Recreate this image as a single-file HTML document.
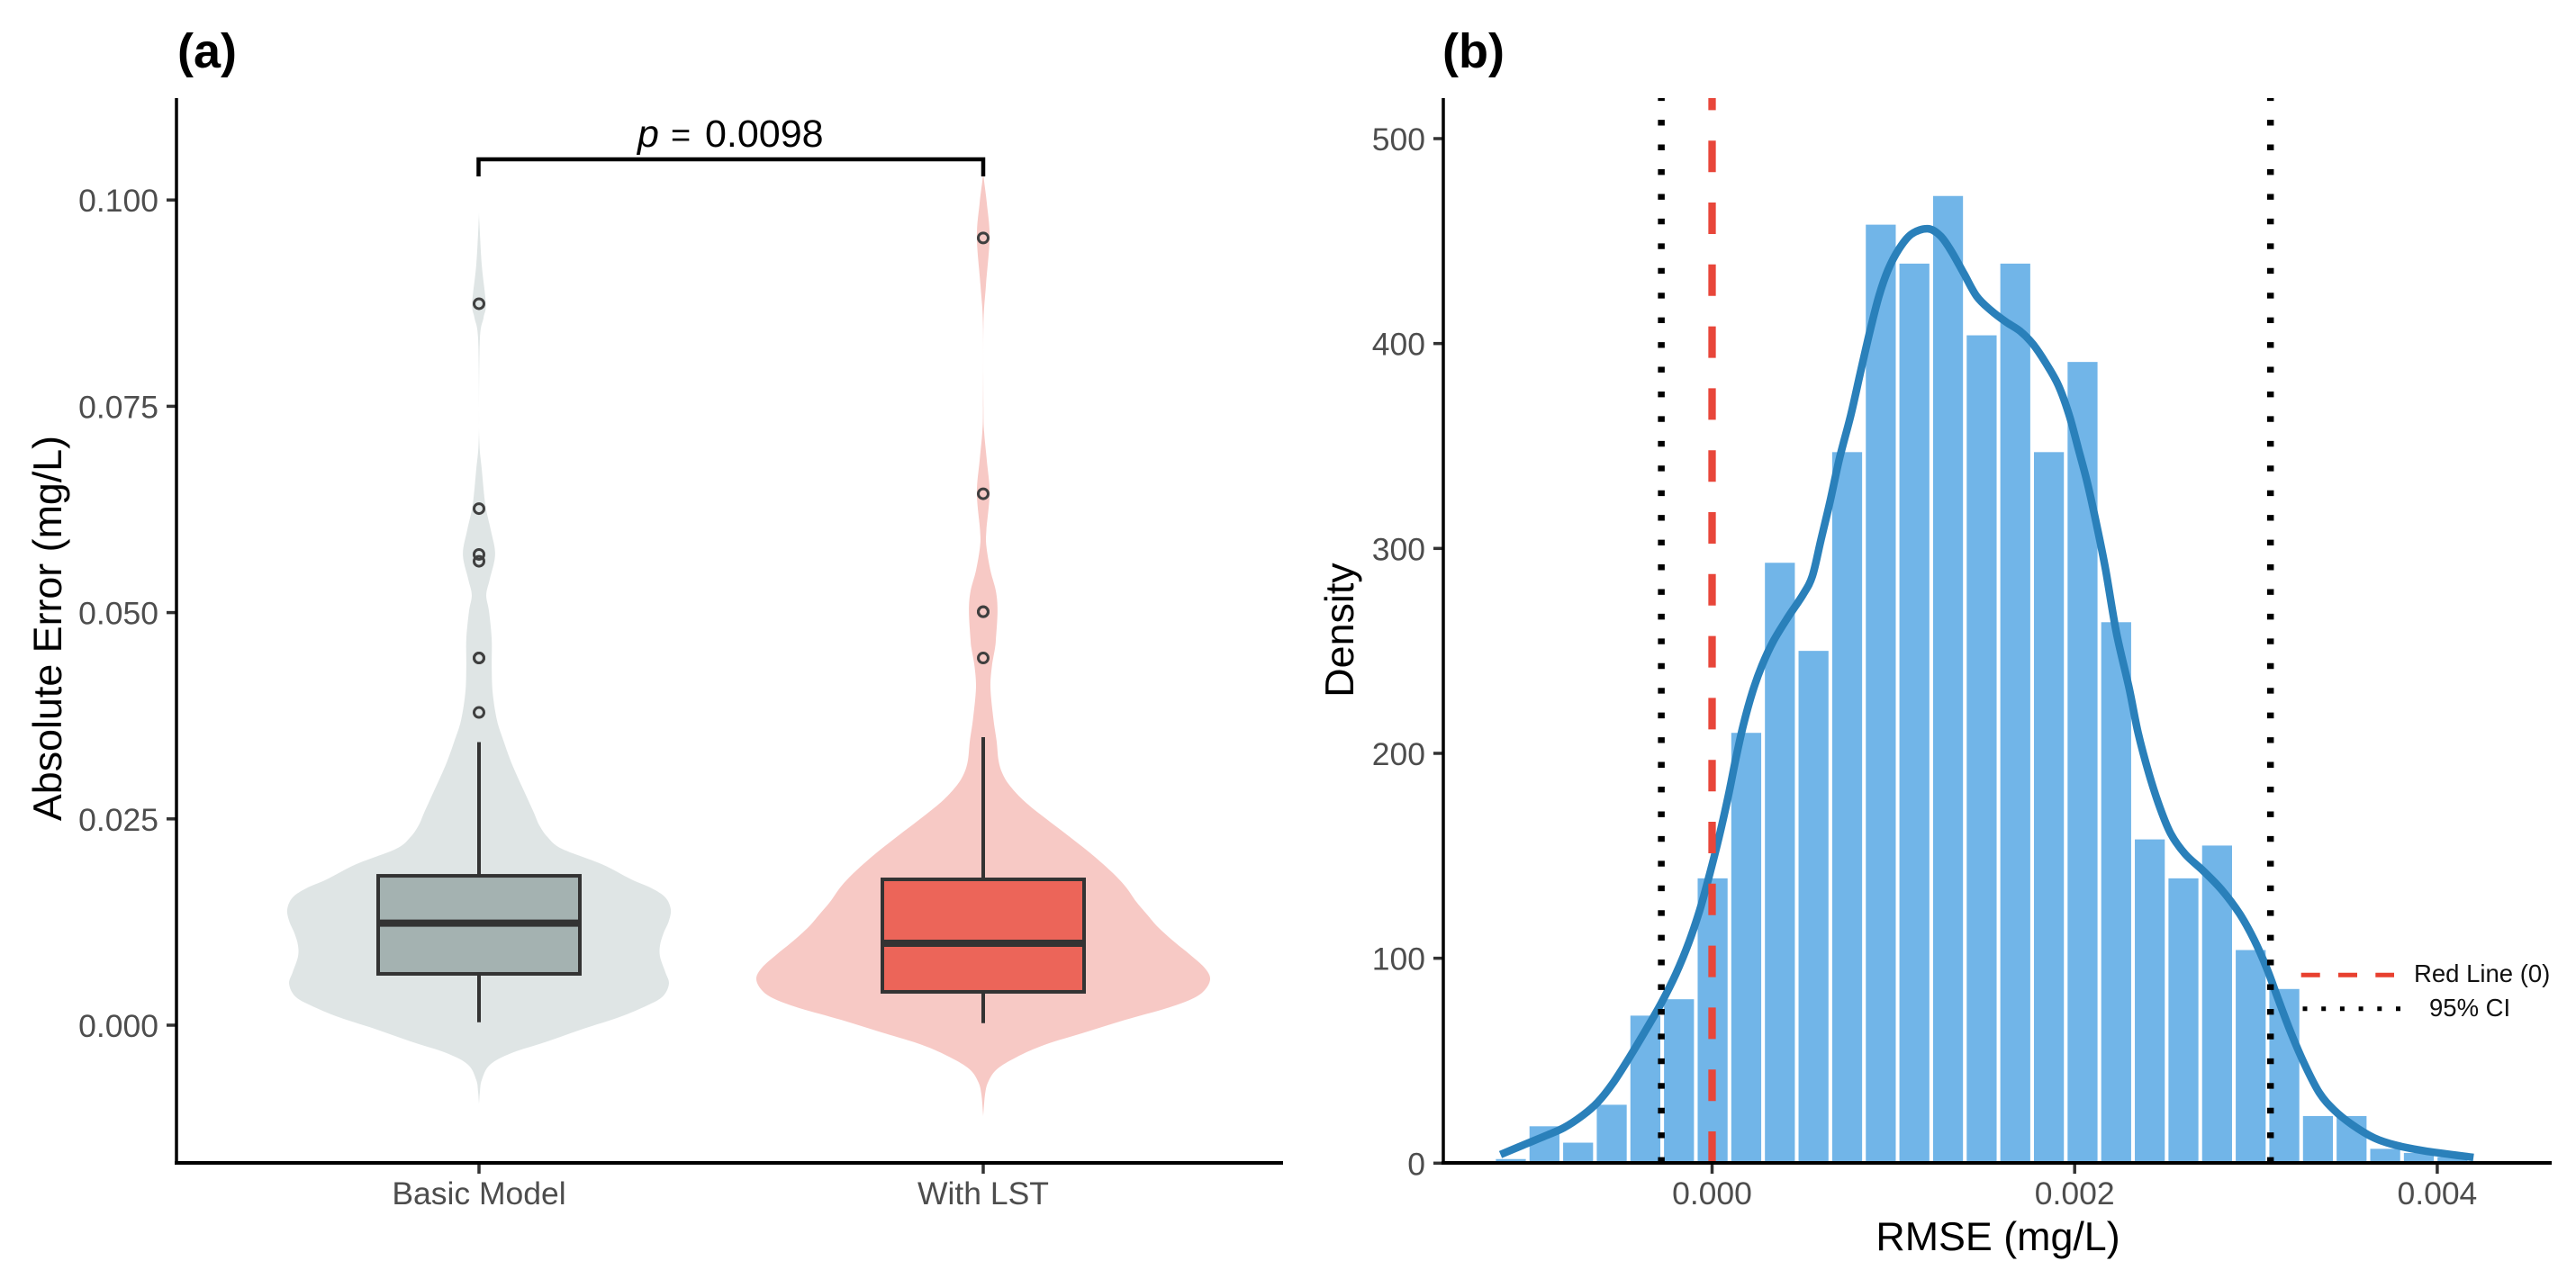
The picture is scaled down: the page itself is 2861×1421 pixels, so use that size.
<!DOCTYPE html>
<html lang="en">
<head>
<meta charset="utf-8">
<title>Absolute error violin plot and RMSE histogram</title>
<style>
html,body{margin:0;padding:0;background:#fff;width:2861px;height:1421px;overflow:hidden}
svg{display:block;font-family:"Liberation Sans",Arial,sans-serif}
.tick{font-size:35.5px;fill:#4d4d4d}
.axt{font-size:44.8px;fill:#000}
.ttl{font-size:54px;font-weight:700;fill:#000}
.leg{font-size:27.5px;fill:#111}
</style>
</head>
<body>
<svg id="fig" xmlns="http://www.w3.org/2000/svg" width="2861" height="1421" viewBox="0 0 2861 1421">
  <rect x="0" y="0" width="2861" height="1421" fill="#fff"/>
  <g id="panelA"></g>
  <g id="panelB"></g>

  <text class="ttl" x="197" y="75">(a)</text>
  <text class="ttl" x="1602" y="75">(b)</text>

  <text class="axt" text-anchor="middle" transform="translate(68,698) rotate(-90)">Absolute Error (mg/L)</text>
  <text class="axt" text-anchor="middle" transform="translate(1503,700) rotate(-90)">Density</text>
  <text class="axt" text-anchor="middle" x="2219" y="1389">RMSE (mg/L)</text>

  <path d="M531.5 196V177H1092V196" fill="none" stroke="#000" stroke-width="4.5"/>
  <text font-size="43" fill="#000" y="163"><tspan font-style="italic" x="708">p</tspan><tspan x="745" font-size="38">=</tspan><tspan x="783">0.0098</tspan></text>

  <g>
    <line x1="2555.7" y1="1083.3" x2="2659" y2="1083.3" stroke="#e8402f" stroke-width="5" stroke-dasharray="21 20.3"/>
    <text class="leg" x="2681" y="1091">Red Line (0)</text>
    <line x1="2557.5" y1="1120.7" x2="2666" y2="1120.7" stroke="#000" stroke-width="5" stroke-dasharray="5 15.7"/>
    <text class="leg" x="2698" y="1129">95% CI</text>
  </g>
</svg>
<script>
// ---- Panel (a) data ----
const categories = ['Basic Model', 'With LST'];
const yTicksA = [0, 0.025, 0.05, 0.075, 0.1];
const yTickLabelsA = ['0.000', '0.025', '0.050', '0.075', '0.100'];

const violinBasicValues = [-0.00957,-0.0081,-0.00665,-0.0048,-0.00338,-0.00196,-0.00044,0.00098,0.0024,0.00349,0.00502,0.00644,0.00829,0.00971,0.01113,0.01265,0.01407,0.01549,0.01658,0.01767,0.01952,0.02138,0.0228,0.02421,0.02574,0.02792,0.03152,0.03447,0.03698,0.04036,0.04352,0.04679,0.05017,0.05214,0.0541,0.05705,0.06,0.06305,0.06741,0.07035,0.07482,0.08322,0.08573,0.08748,0.09217,0.09708,0.0985];
const violinBasicDensity = [0,0.004,0.012,0.048,0.143,0.302,0.46,0.619,0.742,0.81,0.837,0.821,0.798,0.798,0.813,0.837,0.845,0.821,0.762,0.671,0.54,0.365,0.302,0.266,0.242,0.206,0.147,0.108,0.079,0.06,0.056,0.056,0.044,0.032,0.048,0.071,0.052,0.028,0.012,0.002,0,0.004,0.02,0.03,0.012,0.002,0];
const violinLstValues = [-0.01102,-0.00839,-0.00687,-0.00534,-0.00387,-0.00238,-0.00087,0.00065,0.00213,0.00327,0.00438,0.0057,0.00701,0.00851,0.01003,0.01189,0.01342,0.01494,0.0168,0.01865,0.02094,0.02317,0.02541,0.0273,0.02918,0.03068,0.03218,0.03443,0.03709,0.04082,0.04344,0.0457,0.04679,0.05017,0.05257,0.05508,0.05803,0.06,0.06447,0.06839,0.07188,0.07482,0.08475,0.08966,0.09544,0.09959,0.10275,0.10406];
const violinLstDensity = [0,0.008,0.022,0.06,0.147,0.27,0.448,0.627,0.817,0.927,0.98,1,0.974,0.913,0.845,0.77,0.722,0.675,0.627,0.563,0.468,0.365,0.258,0.175,0.113,0.082,0.067,0.059,0.045,0.032,0.038,0.052,0.056,0.063,0.056,0.032,0.014,0.014,0.028,0.016,0.004,0.001,0.001,0.012,0.028,0.016,0.002,0];

const boxQ1 = [0.00622, 0.00404];
const boxMedian = [0.01236, 0.00993];
const boxQ3 = [0.0181, 0.01767];
const whiskerLow = [0.00036, 0.00025];
const whiskerHigh = [0.0343, 0.0349];
const outliersBasic = [0.0379, 0.0445, 0.0445, 0.05622, 0.05705, 0.0626, 0.08743];
const outliersLst = [0.0445, 0.0501, 0.0501, 0.0644, 0.0954];

// ---- Panel (b) data ----
const xTicksB = [0, 0.002, 0.004];
const xTickLabelsB = ['0.000', '0.002', '0.004'];
const yTicksB = [0, 100, 200, 300, 400, 500];
const yTickLabelsB = ['0', '100', '200', '300', '400', '500'];
const histBinStart = -0.00111;
const histBinWidth = 0.0001855;
const histValues = [2,18,10,28.5,72,80,139,210,293,250,347,458,439,472,404,439,347,391,264,158,139,155,104,85,23,23,7,5,3,1];
const kdeX = [-0.001167,-0.001043,-0.00092,-0.000817,-0.000714,-0.000631,-0.000549,-0.000456,-0.000364,-0.000281,-0.000199,-0.000127,-0.000065,-0.000014,0.000038,0.000089,0.00013,0.000172,0.000223,0.000275,0.000337,0.000419,0.000501,0.000553,0.0006,0.000651,0.000703,0.000765,0.000816,0.000868,0.00092,0.000971,0.00103,0.0011,0.00119,0.00126,0.00132,0.00139,0.00146,0.00154,0.00162,0.0017,0.00177,0.00184,0.00191,0.00197,0.00202,0.00207,0.00212,0.00217,0.00223,0.0023,0.00235,0.00241,0.00247,0.00253,0.00261,0.00271,0.00281,0.00291,0.00299,0.00306,0.00312,0.00319,0.00327,0.00335,0.00343,0.00353,0.00365,0.00377,0.00393,0.0042];
const kdeY = [4.2,8.8,13.3,17.3,23.3,29.7,38.8,51.6,65.2,78,92.5,108,124.4,140.8,159,179,197,213.7,230,242.8,254.6,266.5,277.4,286.5,304,323,344,365,385,405,423,436,446,453.4,456,452.5,445,434,423,416,410.6,406,399.7,390.6,379.6,365,348.7,332,312,290,259,232,210,190,173.6,160.8,150.8,142.6,133.5,121.7,109,95,80.7,64.3,47.9,34.3,26,18.8,12.4,8.8,6,2.8];
const redLineValue = [0];
const ciBounds = [-0.00028, 0.00308];

// ---- Axis functions ----
function yA(v){ return 1139 - v * 9168; }
function xCat(i){ return 532 + 560 * i; }
function halfW(d){ return Math.max(0, d) * 252; }
function xB(v){ return 1901.5 + v * 201350; }
function yB(v){ return 1292.3 - v * 2.2766; }

const NS = 'http://www.w3.org/2000/svg';
function make(parent, tag, attrs){
  const el = document.createElementNS(NS, tag);
  for (const k in attrs) el.setAttribute(k, attrs[k]);
  parent.appendChild(el);
  return el;
}
function smooth(pts, move){
  let d = (move ? 'M' : 'L') + pts[0][0].toFixed(2) + ' ' + pts[0][1].toFixed(2);
  for (let i = 0; i < pts.length - 1; i++){
    const p0 = pts[Math.max(0, i - 1)], p1 = pts[i], p2 = pts[i + 1], p3 = pts[Math.min(pts.length - 1, i + 2)];
    const c1x = p1[0] + (p2[0] - p0[0]) / 6, c1y = p1[1] + (p2[1] - p0[1]) / 6;
    const c2x = p2[0] - (p3[0] - p1[0]) / 6, c2y = p2[1] - (p3[1] - p1[1]) / 6;
    d += 'C' + c1x.toFixed(2) + ' ' + c1y.toFixed(2) + ' ' + c2x.toFixed(2) + ' ' + c2y.toFixed(2) + ' ' + p2[0].toFixed(2) + ' ' + p2[1].toFixed(2);
  }
  return d;
}

const A = document.getElementById('panelA');
const B = document.getElementById('panelB');

// ---- Panel (a) drawing ----
const violinSets = [[violinBasicValues, violinBasicDensity, '#dfe5e5'], [violinLstValues, violinLstDensity, '#f7c9c5']];
const boxFills = ['#a4b2b1', '#ec6559'];
const outlierSets = [outliersBasic, outliersLst];
const catNames = ['basic-model', 'with-lst'];

violinSets.forEach(function(s, i){
  const cx = xCat(i);
  const right = s[0].map(function(v, k){ return [cx + halfW(s[1][k]), yA(v)]; });
  const left = s[0].map(function(v, k){ return [cx - halfW(s[1][k]), yA(v)]; }).reverse();
  const vio = make(A, 'path', {d: smooth(right, true) + smooth(left, false) + 'Z', fill: s[2]});
  
  

  const wh = make(A, 'line', {x1: cx, x2: cx, y1: yA(whiskerLow[i]), y2: yA(whiskerHigh[i]), stroke: '#333', 'stroke-width': 4});
  
  

  const box = make(A, 'rect', {x: cx - 112, width: 224, y: yA(boxQ3[i]), height: yA(boxQ1[i]) - yA(boxQ3[i]), fill: boxFills[i], stroke: '#333', 'stroke-width': 4});
  
  

  const med = make(A, 'line', {x1: cx - 112, x2: cx + 112, y1: yA(boxMedian[i]), y2: yA(boxMedian[i]), stroke: '#333', 'stroke-width': 8});
  
  

  outlierSets[i].forEach(function(v){
    const c = make(A, 'circle', {cx: cx, cy: yA(v), r: 5.5, fill: 'none', stroke: '#3f3f3f', 'stroke-width': 3});
    
    
  });

  const t = make(A, 'line', {x1: cx, x2: cx, y1: 1292, y2: 1304, stroke: '#333', 'stroke-width': 3.5});
  
  

  const lab = make(A, 'text', {x: cx, y: 1338, 'text-anchor': 'middle', class: 'tick'});
  lab.textContent = categories[i];
  
  
});

yTicksA.forEach(function(v, i){
  const t = make(A, 'line', {x1: 185, x2: 196, y1: yA(v), y2: yA(v), stroke: '#333', 'stroke-width': 3.5});
  
  
  const lab = make(A, 'text', {x: 176, y: yA(v) + 13, 'text-anchor': 'end', class: 'tick'});
  lab.textContent = yTickLabelsA[i];
  
  
});

const axisYA = make(A, 'line', {x1: 196, x2: 196, y1: 109, y2: 1294, stroke: '#000', 'stroke-width': 3.5});


const axisXA = make(A, 'line', {x1: 194, x2: 1425, y1: 1292, y2: 1292, stroke: '#000', 'stroke-width': 4});



// ---- Panel (b) drawing ----
histValues.forEach(function(v, i){
  const c = histBinStart + i * histBinWidth;
  const w = histBinWidth * 201350 - 4.1;
  const r = make(B, 'rect', {x: xB(c) - w / 2, width: w, y: yB(v), height: yB(0) - yB(v), fill: '#71b5e8'});
  
  
});

const kdePts = kdeX.map(function(x, i){ return [xB(x), yB(kdeY[i])]; });
const kde = make(B, 'path', {d: smooth(kdePts, true), fill: 'none', stroke: '#2a80ba', 'stroke-width': 8.5});



ciBounds.forEach(function(v){
  const l = make(B, 'line', {x1: xB(v), x2: xB(v), y1: 1292, y2: 109, stroke: '#000', 'stroke-width': 7.5, 'stroke-dasharray': '6.4 21.04'});
  
  
});

redLineValue.forEach(function(v){
  const l = make(B, 'line', {x1: xB(v), x2: xB(v), y1: 1292, y2: 109, stroke: '#e8463a', 'stroke-width': 8.3, 'stroke-dasharray': '35 33.8'});
  
  
});

yTicksB.forEach(function(v, i){
  const t = make(B, 'line', {x1: 1592, x2: 1603, y1: yB(v), y2: yB(v), stroke: '#333', 'stroke-width': 3.5});
  
  
  const lab = make(B, 'text', {x: 1583, y: yB(v) + 13, 'text-anchor': 'end', class: 'tick'});
  lab.textContent = yTickLabelsB[i];
  
  
});

xTicksB.forEach(function(v, i){
  const t = make(B, 'line', {x1: xB(v), x2: xB(v), y1: 1292, y2: 1304, stroke: '#333', 'stroke-width': 3.5});
  
  
  const lab = make(B, 'text', {x: xB(v), y: 1338, 'text-anchor': 'middle', class: 'tick'});
  lab.textContent = xTickLabelsB[i];
  
  
});

const axisYB = make(B, 'line', {x1: 1603, x2: 1603, y1: 109, y2: 1294, stroke: '#000', 'stroke-width': 3.5});


const axisXB = make(B, 'line', {x1: 1601, x2: 2834, y1: 1292, y2: 1292, stroke: '#000', 'stroke-width': 4});


</script>
</body>
</html>
